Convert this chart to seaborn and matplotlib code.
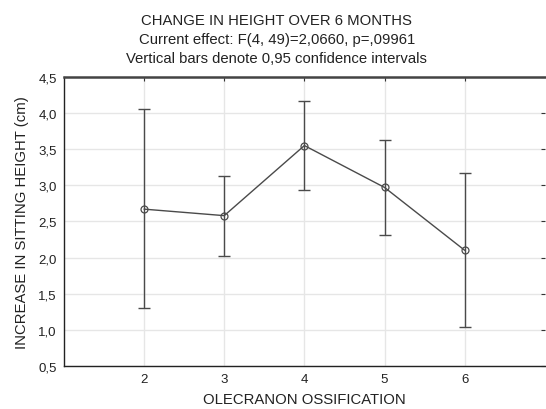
import numpy as np
import pandas as pd
import matplotlib
matplotlib.use("Agg")
import matplotlib.pyplot as plt
import seaborn as sns
from matplotlib.ticker import FuncFormatter

# ocitane vrijednosti
ossification = [2, 3, 4, 5, 6]
mean_height = [2.67, 2.58, 3.55, 2.97, 2.10]
ci_low = [1.30, 2.02, 2.94, 2.31, 1.04]
ci_high = [4.05, 3.13, 4.16, 3.63, 3.17]

df = pd.DataFrame({"ossification": ossification, "height": mean_height,
                   "low": ci_low, "high": ci_high})

sns.set_style("white")
plt.rcParams['font.family'] = ['Liberation Sans', 'DejaVu Sans']

fig = plt.figure(figsize=(5.46, 4.10), dpi=100)
ax = fig.add_axes([0.117, 0.105, 0.881, 0.705])

ax.grid(True, color="#e6e6e6", linewidth=1)
ax.set_axisbelow(True)

line_col = "#4a4a4a"
ax.errorbar(df["ossification"], df["height"],
            yerr=[df["height"] - df["low"], df["high"] - df["height"]],
            fmt="none", ecolor=line_col, elinewidth=1, capsize=4, capthick=1, zorder=2)
sns.lineplot(data=df, x="ossification", y="height", ax=ax, color=line_col,
             linewidth=1, marker="o", markersize=5, markerfacecolor="none",
             markeredgecolor=line_col, markeredgewidth=0.9, zorder=3)

ax.set_xlim(1, 7)
ax.set_ylim(0.5, 4.5)
ax.set_xticks(ossification)
ax.set_yticks(np.arange(0.5, 4.51, 0.5))
ax.yaxis.set_major_formatter(FuncFormatter(lambda v, p: f"{v:.1f}".replace(".", ",")))
ax.tick_params(direction="in", length=3, width=0.8, color="#333333",
               top=True, right=True, labelsize=9.5, labelcolor="#222222", pad=5)

for side in ["left", "bottom"]:
    ax.spines[side].set_color("#222222")
    ax.spines[side].set_linewidth(1)
ax.spines["top"].set_color("#444444")
ax.spines["top"].set_linewidth(1.8)
ax.spines["right"].set_visible(False)

ax.set_xlabel("OLECRANON OSSIFICATION", fontsize=10.7, color="#222222", labelpad=5)
ax.set_ylabel("INCREASE IN SITTING HEIGHT (cm)", fontsize=10.7, color="#222222", labelpad=7)

fig.text(0.507, 0.949, "CHANGE IN HEIGHT OVER 6 MONTHS", ha="center", va="center",
         fontsize=10.7, color="#222222")
fig.text(0.507, 0.902, "Current effect: F(4, 49)=2,0660, p=,09961", ha="center",
         va="center", fontsize=10.7, color="#222222")
fig.text(0.507, 0.855, "Vertical bars denote 0,95 confidence intervals", ha="center",
         va="center", fontsize=10.7, color="#222222")

fig.savefig("out.png", dpi=100)
